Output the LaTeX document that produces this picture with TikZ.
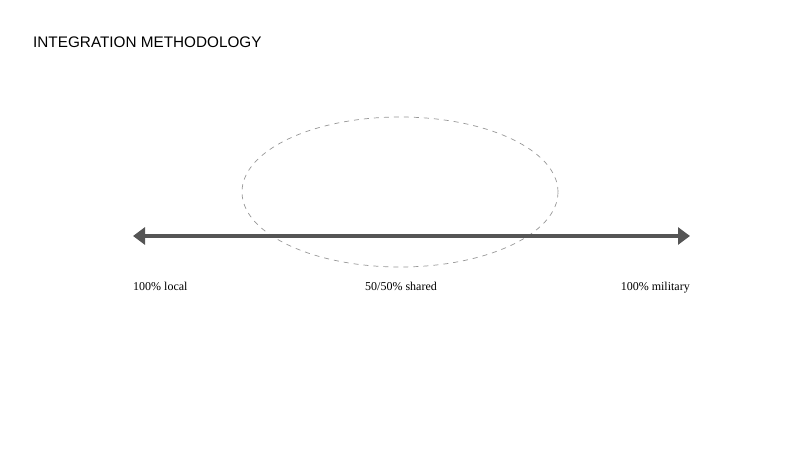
\documentclass[tikz,border=0pt]{standalone}
\usepackage{fontspec}
\setmainfont{Liberation Serif}
\newfontfamily\titlefont{Liberation Sans}
\usetikzlibrary{arrows.meta}
\definecolor{axisgray}{RGB}{85,85,85}
\definecolor{dashgray}{RGB}{150,150,150}
\begin{document}
\begin{tikzpicture}[x=1pt,y=1pt,>={Triangle[length=12pt,width=17pt]},
	lbl/.style={font=\fontsize{12}{14}\selectfont,inner sep=0pt}]
			\useasboundingbox (0,0) rectangle (804,452);
			\node[anchor=west,inner sep=0pt,font=\titlefont\fontsize{15.3}{18}\selectfont](title) at (33,410){INTEGRATION METHODOLOGY};
			\draw[dashgray,dash pattern=on 5pt off 5pt,line width=0.7pt](400,260) ellipse (158 and 75);
			\coordinate (left) at (133,216);
			\coordinate (right) at (690,216);
			\draw[axisgray,line width=4pt,<->](left)--(right);
			\node[lbl,anchor=base west](local) at (133,161){100\% local};
			\node[lbl,anchor=base](shared) at (401,161){50/50\% shared};
			\node[lbl,anchor=base east](military) at (690,161){100\% military};
		\end{tikzpicture}
\end{document}
